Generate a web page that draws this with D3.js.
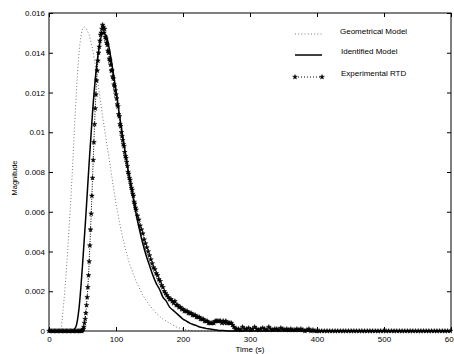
<!DOCTYPE html>
<html><head><meta charset="utf-8">
<script src="https://cdn.jsdelivr.net/npm/d3@7"></script>
<style>
html,body{margin:0;padding:0;background:#fff;}
svg{display:block;font-family:"Liberation Sans",Arial,Helvetica,sans-serif;}
</style></head>
<body>
<svg id="chart" width="454" height="354"></svg>
<script>
// ---------- DATA ----------
const xTickValues = [0, 100, 200, 300, 400, 500, 600];
const xTickLabels = ["0", "100", "200", "300", "400", "500", "600"];
const yTickValues = [0, 0.002, 0.004, 0.006, 0.008, 0.010, 0.012, 0.014, 0.016];
const yTickLabels = ["0", "0.002", "0.004", "0.006", "0.008", "0.01", "0.012", "0.014", "0.016"];
const seriesNames = ["Geometrical Model", "Identified Model", "Experimental RTD"];

// Geometrical model (dotted)
const geoTime  = [0, 15, 17, 18, 19, 20, 22, 24, 26, 28, 30, 32, 34, 36, 38, 40, 42, 44, 46, 48, 50, 53, 56, 60, 65, 70, 75, 80, 85, 90, 95, 100, 105, 110, 115, 120, 130, 140, 150, 160, 170, 180, 190, 200, 210, 220, 600];
const geoValue = [0, 0, 0, 0.0001, 0.0004, 0.0007, 0.0014, 0.0022, 0.0031, 0.0041, 0.0052, 0.0063, 0.0075, 0.0088, 0.0102, 0.0115, 0.0127, 0.0137, 0.0144, 0.0149, 0.0152, 0.0153, 0.0152, 0.0149, 0.0142, 0.0132, 0.0120, 0.0108, 0.0097, 0.0086, 0.0075, 0.0064, 0.0055, 0.0047, 0.0040, 0.0034, 0.0025, 0.0018, 0.0013, 0.0009, 0.0006, 0.0004, 0.0002, 0.0001, 0.00003, 0, 0];

// Identified model (solid)
const idTime  = [0, 30, 35, 40, 45, 50, 55, 60, 65, 70, 75, 80, 85, 90, 95, 100, 105, 110, 115, 120, 125, 130, 135, 140, 145, 150, 155, 160, 165, 170, 175, 180, 185, 190, 195, 200, 205, 210, 215, 220, 225, 230, 235, 240, 245, 250, 255, 260, 270, 600];
const idValue = [0, 0, 0.00002, 0.0002, 0.0012, 0.0033, 0.0058, 0.0085, 0.0110, 0.0130, 0.0143, 0.0150, 0.0149, 0.0142, 0.0132, 0.0121, 0.0109, 0.0098, 0.0087, 0.0077, 0.0068, 0.0059, 0.0051, 0.0044, 0.0038, 0.0033, 0.0028, 0.0024, 0.0021, 0.0017, 0.0015, 0.0012, 0.00105, 0.0009, 0.00075, 0.0006, 0.0005, 0.0004, 0.00033, 0.00027, 0.0002, 0.00016, 0.00012, 0.0001, 0.00007, 0.00005, 0.00003, 0.00002, 0, 0];

// Experimental RTD (stars), stored as segments of regularly sampled values
const expLeadStart = 0,   expLeadStep = 2;
const expLead = [0,0,0,0,0,0,0,0,0,0,0,0,0,0,0,0,0,0,0,0,0,0,0,0,0];
const expRiseStart = 49,  expRiseStep = 1;
const expRise = [0, 0.00005, 0.0001, 0.0002, 0.0004, 0.0006, 0.0009, 0.0013, 0.0017, 0.0022, 0.0028, 0.0035, 0.0043, 0.0051, 0.0059, 0.0068, 0.0077, 0.0086, 0.0095, 0.0104, 0.0112, 0.0119, 0.0126, 0.0131, 0.0136, 0.0140, 0.0143, 0.0146, 0.0149, 0.0150, 0.0152, 0.0154, 0.0153, 0.0150, 0.0152, 0.0148, 0.0147, 0.0145, 0.0144, 0.0141, 0.0140, 0.0137, 0.0136, 0.0134, 0.0131, 0.0131, 0.0128, 0.0127, 0.0124, 0.0123, 0.0121, 0.0119, 0.0117, 0.0114, 0.0113, 0.0109, 0.0108, 0.0104, 0.0103, 0.0100, 0.0098, 0.0096, 0.0094, 0.0093, 0.0090, 0.0088, 0.0087, 0.0085, 0.0083, 0.0080, 0.0079, 0.0077, 0.0076, 0.0074, 0.0072, 0.0071, 0.0069, 0.0068, 0.0065, 0.0064, 0.0062, 0.0061];
const expTailStart = 132, expTailStep = 2;
const expTail = [0.0058, 0.0056, 0.0053, 0.0051, 0.0049, 0.0046, 0.0044, 0.0042, 0.0040, 0.0038, 0.0036, 0.0034, 0.0032, 0.0031, 0.0029, 0.0028, 0.0026, 0.0025, 0.0023, 0.0022, 0.0020, 0.0019, 0.0018, 0.0017, 0.0016, 0.0016, 0.0015, 0.0014, 0.0015, 0.0013, 0.0013, 0.0012, 0.0012, 0.0011, 0.0011, 0.0010, 0.0010, 0.0010, 0.0009, 0.0009, 0.0009, 0.0008, 0.0008, 0.0008, 0.0007, 0.0007, 0.0007, 0.0006, 0.0006, 0.0006, 0.0005, 0.0005, 0.0005, 0.0004, 0.0004, 0.0004, 0.0004, 0.0004, 0.0005, 0.0005, 0.0005, 0.0005, 0.0005, 0.0004, 0.0005, 0.0004, 0.0005, 0.0004, 0.0004, 0.0004, 0.0004, 0.0003, 0.0002, 0.0001, 0.0001];
const expFloorStart = 283, expFloorStep = 3;
const expFloor = [0.0001, 0.00005, 0.0002, 0.0001, 0.0001, 0.00015, 0.00005, 0.0001, 0.0002, 0.0001, 0.00005, 0.0001, 0.00015, 0.0001, 0.00005, 0.0002, 0.0001, 0.00005, 0.0001, 0.0001, 0.00005, 0.00015, 0.0001, 0.00005, 0.0001, 0.00005, 0.0001, 0.00005, 0.00005, 0.0001, 0.00005, 0.0001, 0.00005, 0, 0.00005, 0.0001, 0, 0.00005, 0, 0];
const expEndStart = 403, expEndStep = 4;
const expEnd = [0,0,0,0,0,0,0,0,0,0,0,0,0,0,0,0,0,0,0,0,0,0,0,0,0,0,0,0,0,0,0,0,0,0,0,0,0,0,0,0,0,0,0,0,0,0,0,0,0,0];

// ---------- BUILD ----------
const pairs = (ts, vs) => ts.map((t, i) => [t, vs[i]]);
const seg = (start, step, vs) => vs.map((v, i) => [start + i * step, v]);
const geoData = pairs(geoTime, geoValue);
const idData = pairs(idTime, idValue);
const expData = [].concat(
  seg(expLeadStart, expLeadStep, expLead),
  seg(expRiseStart, expRiseStep, expRise),
  seg(expTailStart, expTailStep, expTail),
  seg(expFloorStart, expFloorStep, expFloor),
  seg(expEndStart, expEndStep, expEnd)
).filter(d => d[0] <= 600);

const L = 49, R = 451, T = 13, B = 331;
const x = d3.scaleLinear().domain([0, 600]).range([L, R]);
const y = d3.scaleLinear().domain([0, 0.016]).range([B, T]);

const svg = d3.select("#chart");
const FONT = 8;

// lines
const line = d3.line().x(d => x(d[0])).y(d => y(d[1]));
svg.append("path").datum(geoData).attr("d", line)
  .attr("fill", "none").attr("stroke", "#777").attr("stroke-width", 1)
  .attr("stroke-dasharray", "1,2.2");
svg.append("path").datum(expData).attr("d", line)
  .attr("fill", "none").attr("stroke", "#000").attr("stroke-width", 1)
  .attr("stroke-dasharray", "1,1.5");
svg.append("path").datum(idData).attr("d", line.curve(d3.curveMonotoneX))
  .attr("fill", "none").attr("stroke", "#000").attr("stroke-width", 1.5);

const star = d3.symbol().type(d3.symbolStar).size(7);
svg.append("g").selectAll("path").data(expData).join("path")
  .attr("d", star).attr("transform", d => `translate(${x(d[0])},${y(d[1])})`)
  .attr("fill", "#000").attr("stroke", "#000").attr("stroke-width", 0.5);

// axes (ticks inside, MATLAB style)
const fmtX = d => xTickLabels[xTickValues.indexOf(d)];
const fmtY = d => yTickLabels[yTickValues.indexOf(d)];
const gB = svg.append("g").attr("transform", `translate(0,${B})`)
  .call(d3.axisBottom(x).tickValues(xTickValues).tickFormat(fmtX).tickSize(-4).tickPadding(5));
const gL = svg.append("g").attr("transform", `translate(${L},0)`)
  .call(d3.axisLeft(y).tickValues(yTickValues).tickFormat(fmtY).tickSize(-4).tickPadding(4));
const gT = svg.append("g").attr("transform", `translate(0,${T})`)
  .call(d3.axisTop(x).tickValues(xTickValues).tickFormat("").tickSize(-4));
const gR = svg.append("g").attr("transform", `translate(${R},0)`)
  .call(d3.axisRight(y).tickValues(yTickValues).tickFormat("").tickSize(-4));
[gB, gL, gT, gR].forEach(g => {
  g.select(".domain").remove();
  g.selectAll("line").attr("stroke", "#000");
  g.selectAll("text").attr("font-size", FONT).attr("fill", "#000")
    .attr("font-family", "Liberation Sans, Arial, sans-serif");
});
svg.append("rect").attr("x", L).attr("y", T).attr("width", R - L).attr("height", B - T)
  .attr("fill", "none").attr("stroke", "#000").attr("stroke-width", 1);

// axis titles
svg.append("text").attr("x", (L + R) / 2).attr("y", 352).attr("text-anchor", "middle")
  .attr("font-size", FONT).text("Time (s)");
svg.append("text").attr("transform", "translate(17,178) rotate(-90)").attr("text-anchor", "middle")
  .attr("font-size", FONT - 0.5).text("Magnitude");

// legend
const lg = svg.append("g");
const lx0 = 295, lx1 = 322, tx = 340;
const rows = [35, 55, 77];
lg.append("line").attr("x1", lx0).attr("x2", lx1).attr("y1", rows[0] - 1).attr("y2", rows[0] - 1)
  .attr("stroke", "#777").attr("stroke-dasharray", "1,2.2");
lg.append("line").attr("x1", lx0).attr("x2", lx1).attr("y1", rows[1]).attr("y2", rows[1])
  .attr("stroke", "#000").attr("stroke-width", 1.5);
lg.append("line").attr("x1", lx0).attr("x2", lx1).attr("y1", rows[2]).attr("y2", rows[2])
  .attr("stroke", "#000").attr("stroke-dasharray", "1,2");
[lx0, lx1].forEach(px => lg.append("path").attr("d", star)
  .attr("transform", `translate(${px},${rows[2]})`).attr("fill", "#000").attr("stroke", "#000").attr("stroke-width", 0.5));
seriesNames.forEach((n, i) => lg.append("text").attr("x", tx + (i ? 1 : 0)).attr("y", rows[i] - 1)
  .attr("font-size", FONT).text(n));
</script>
</body></html>
